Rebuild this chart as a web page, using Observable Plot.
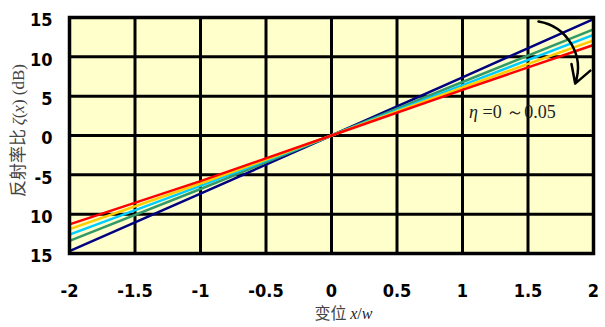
<!DOCTYPE html>
<html><head><meta charset="utf-8">
<script src="https://cdn.jsdelivr.net/npm/d3@7"></script>
<script src="https://cdn.jsdelivr.net/npm/@observablehq/plot@0.6"></script>
<style>body{margin:0;background:#fff}</style>
</head><body><div id="chart"></div>
<script>
// x positions (x/w) where the curves are sampled
const xs = [-2, -1, 0, 1, 2];
// series: eta from 0 to 0.05
const etaValues = ["0", "0.0125", "0.025", "0.0375", "0.05"];
const seriesColors = ["#000080", "#339966", "#00CCFF", "#FFCC00", "#FF0000"];
const zetaEta0     = [-14.7, -7.4, 0, 7.4, 14.8];
const zetaEta1     = [-13.4, -6.8, 0, 6.8, 13.5];
const zetaEta2     = [-12.6, -6.4, 0, 6.4, 12.8];
const zetaEta3     = [-11.9, -6.1, 0, 6.1, 12.1];
const zetaEta4     = [-11.3, -5.8, 0, 5.8, 11.5];
const allSeries = [zetaEta0, zetaEta1, zetaEta2, zetaEta3, zetaEta4];

// axis ticks and their labels as displayed
const xTicks = [-2, -1.5, -1, -0.5, 0, 0.5, 1, 1.5, 2];
const xTickLabels = ["-2", "-1.5", "-1", "-0.5", "0", "0.5", "1", "1.5", "2"];
const yTicks = [15, 10, 5, 0, -5, -10, -15];
const yTickLabels = ["15", "10", "5", "0", "-5", "10", "15"];

// annotation
const annotationText = ["η =0 ～0.05"];
const annotationPos = [{x: 1.05, y: 2.9}];
const arrowPos = [{x1: 1.58, y1: 14.5, x2: 1.86, y2: 6.6}];

const xTitle = "变位 x/w";
const yTitle = "反射率比 ζ(x) (dB)";

const data = [];
allSeries.forEach((vals, i) => {
  vals.forEach((v, j) => data.push({x: xs[j], y: v, eta: etaValues[i]}));
});

const tickFont = "DejaVu Sans Condensed, DejaVu Sans, sans-serif";

const chart = Plot.plot({
  width: 605,
  height: 327,
  marginLeft: 69,
  marginRight: 12,
  marginTop: 17,
  marginBottom: 74,
  x: {domain: [-2, 2], axis: null},
  y: {domain: [-15, 15], axis: null},
  color: {domain: etaValues, range: seriesColors},
  style: {background: "#fff", overflow: "visible"},
  marks: [
    Plot.frame({fill: "#FFFFCC", stroke: null}),
    Plot.ruleX(xTicks, {stroke: "#000", strokeWidth: 3}),
    Plot.ruleY(yTicks, {stroke: "#000", strokeWidth: 3}),
    Plot.line(data, {x: "x", y: "y", z: "eta", stroke: "eta", strokeWidth: 2.5}),
    Plot.frame({stroke: "#000", strokeWidth: 3.5}),
    Plot.text(xTicks, {x: d => d, text: (d, i) => xTickLabels[i], frameAnchor: "bottom", dy: 43,
      fontSize: 18, fontWeight: "bold", fontFamily: tickFont, fill: "#000"}),
    Plot.text(yTicks, {y: d => d, text: (d, i) => yTickLabels[i], frameAnchor: "left", dx: -17, dy: 3,
      textAnchor: "end", fontSize: 18, fontWeight: "bold", fontFamily: tickFont, fill: "#000"}),
    Plot.text([xTitle], {frameAnchor: "bottom", dx: 12, dy: 65, text: d => d, fontSize: 16,
      fontFamily: "Noto Sans CJK SC, sans-serif", fill: "#444"}),
    Plot.text([yTitle], {frameAnchor: "left", textAnchor: "middle", dx: -51, dy: -5, rotate: -90, text: d => d, fontSize: 17,
      fontFamily: "Noto Sans CJK SC, sans-serif", fill: "#444"}),
    Plot.text(annotationPos, {x: "x", y: "y", text: (d, i) => annotationText[i], textAnchor: "start",
      fontSize: 18, fontFamily: "Liberation Serif, serif", fill: "#222"}),
    Plot.arrow(arrowPos, {x1: "x1", y1: "y1", x2: "x2", y2: "y2", bend: 50, stroke: "#000",
      strokeWidth: 2.5, headLength: 12})
  ]
});

document.getElementById("chart").appendChild(chart);

// italic variables in texts
const serif = "Liberation Serif, serif";
d3.select(chart).selectAll("text").each(function() {
  const t = this.textContent;
  if (t === xTitle) {
    this.textContent = "";
    const s = d3.select(this);
    s.append("tspan").text("变位 ");
    s.append("tspan").attr("font-style", "italic").attr("font-family", serif).attr("fill", "#222").text("x");
    s.append("tspan").attr("font-family", serif).attr("fill", "#222").text("/");
    s.append("tspan").attr("font-style", "italic").attr("font-family", serif).attr("fill", "#222").text("w");
  } else if (t === yTitle) {
    this.textContent = "";
    const s = d3.select(this);
    s.append("tspan").text("反射率比 ");
    s.append("tspan").attr("font-style", "italic").attr("font-family", serif).text("ζ");
    s.append("tspan").attr("font-family", serif).text("(");
    s.append("tspan").attr("font-style", "italic").attr("font-family", serif).text("x");
    s.append("tspan").attr("font-family", serif).text(") (dB)");
  } else if (t === annotationText[0]) {
    this.textContent = "";
    const s = d3.select(this);
    s.append("tspan").attr("font-style", "italic").text("η");
    s.append("tspan").text(" =0 ～0.05");
  }
});
</script>
</body></html>
